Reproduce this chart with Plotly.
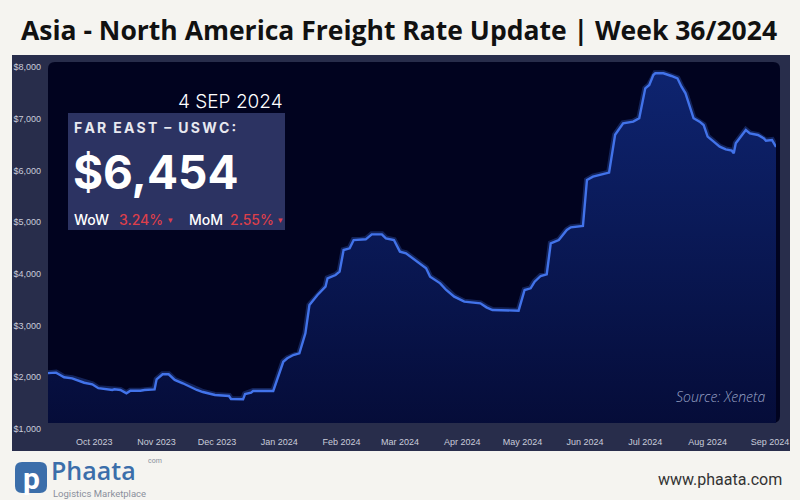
import plotly.graph_objects as go

# ---------------- data ----------------
dates = [
    "2023-09-08", "2023-09-12", "2023-09-14", "2023-09-16", "2023-09-20", "2023-09-26",
    "2023-09-30", "2023-10-03", "2023-10-10", "2023-10-11", "2023-10-14", "2023-10-17",
    "2023-10-19", "2023-10-24", "2023-10-26", "2023-10-31", "2023-11-01", "2023-11-04",
    "2023-11-07", "2023-11-10", "2023-11-14", "2023-11-21", "2023-11-24", "2023-11-30",
    "2023-12-07", "2023-12-08", "2023-12-14", "2023-12-15", "2023-12-18", "2023-12-19",
    "2023-12-29", "2024-01-01", "2024-01-03", "2024-01-05", "2024-01-08", "2024-01-11",
    "2024-01-12", "2024-01-14", "2024-01-16", "2024-01-20", "2024-01-24", "2024-01-25",
    "2024-01-29", "2024-01-31", "2024-02-02", "2024-02-05", "2024-02-07", "2024-02-10",
    "2024-02-13", "2024-02-16", "2024-02-21", "2024-02-23", "2024-02-27", "2024-03-01",
    "2024-03-04", "2024-03-14", "2024-03-16", "2024-03-21", "2024-03-24", "2024-03-28",
    "2024-04-02", "2024-04-10", "2024-04-13", "2024-04-16", "2024-04-29", "2024-05-02",
    "2024-05-05", "2024-05-07", "2024-05-10", "2024-05-13", "2024-05-15", "2024-05-19",
    "2024-05-23", "2024-05-25", "2024-05-31", "2024-06-02", "2024-06-05", "2024-06-13",
    "2024-06-15", "2024-06-16", "2024-06-20", "2024-06-25", "2024-06-28", "2024-07-01",
    "2024-07-03", "2024-07-05", "2024-07-06", "2024-07-10", "2024-07-14", "2024-07-17",
    "2024-07-19", "2024-07-21", "2024-07-25", "2024-07-28", "2024-07-30", "2024-08-01",
    "2024-08-04", "2024-08-07", "2024-08-10", "2024-08-13", "2024-08-14", "2024-08-15",
    "2024-08-20", "2024-08-22", "2024-08-26", "2024-08-29", "2024-08-30", "2024-09-02",
    "2024-09-04",
]
rates = [
    2080, 2090, 2045, 2000, 1980, 1895,
    1865, 1790, 1755, 1768, 1755, 1690,
    1740, 1740, 1755, 1767, 1960, 2058,
    2058, 1948, 1884, 1754, 1715, 1657,
    1638, 1580, 1574, 1677, 1702, 1735,
    1735, 2080, 2300, 2367, 2431, 2464,
    2592, 2850, 3398, 3591, 3752, 3914,
    3978, 4042, 4461, 4494, 4654, 4654,
    4668, 4764, 4764, 4687, 4654, 4429,
    4397, 4107, 3945, 3817, 3688, 3559,
    3462, 3430, 3353, 3301, 3288, 3688,
    3720, 3849, 3959, 3991, 4591, 4654,
    4848, 4900, 4925, 5815, 5879, 5957,
    6459, 6690, 6911, 6943, 7008, 7588,
    7652, 7846, 7878, 7878, 7826, 7781,
    7619, 7491, 7008, 6943, 6879, 6653,
    6556, 6459, 6408, 6382, 6331, 6524,
    6782, 6717, 6685, 6620, 6575, 6588,
    6454,
]
x_tick_vals = ["2023-10-01", "2023-11-01", "2023-12-01", "2024-01-01", "2024-02-01",
               "2024-03-01", "2024-04-01", "2024-05-01", "2024-06-01", "2024-07-01",
               "2024-08-01", "2024-09-01"]
x_tick_text = ["Oct 2023", "Nov 2023", "Dec 2023", "Jan 2024", "Feb 2024", "Mar 2024",
               "Apr 2024", "May 2024", "Jun 2024", "Jul 2024", "Aug 2024", "Sep 2024"]
y_tick_vals = [1000, 2000, 3000, 4000, 5000, 6000, 7000, 8000]
y_tick_text = ["$1,000", "$2,000", "$3,000", "$4,000", "$5,000", "$6,000", "$7,000", "$8,000"]

title_text = "Asia - North America Freight Rate Update | Week 36/2024"
date_label = "4 SEP 2024"
route_label = "F\u2009A\u2009R\u2002E\u2009A\u2009S\u2009T\u2002\u2013\u2002U\u2009S\u2009W\u2009C\u2009:"
latest_rate = "$6,454"
wow_change = "3.24%"
mom_change = "2.55%"
source_text = "Source: Xeneta"

# ---------------- layout helpers ----------------
W, H = 800, 500
L, R, T, B = 48, 776, 67, 429  # plot area in pixels


def px(x):
    return (x - L) / (R - L)


def py(y):
    return (B - y) / (B - T)


def rounded_rect(x0, y0, x1, y1, r):
    rx = r / (R - L)
    ry = r / (B - T)
    a, b, c, d = px(x0), py(y1), px(x1), py(y0)  # left, bottom, right, top
    return (f"M {a+rx},{b} L {c-rx},{b} Q {c},{b} {c},{b+ry} L {c},{d-ry} "
            f"Q {c},{d} {c-rx},{d} L {a+rx},{d} Q {a},{d} {a},{d-ry} "
            f"L {a},{b+ry} Q {a},{b} {a+rx},{b} Z")


PAGE = "#f5f4f0"
PANEL = "#282d4b"
INNER = "#01031f"
LINE = "#4273ea"
RED = "#dc3f4b"

fig = go.Figure()

# glow
fig.add_trace(go.Scatter(x=dates, y=rates, mode="lines",
                         line=dict(color="rgba(70,120,240,0.28)", width=6),
                         hoverinfo="skip", showlegend=False))
fig.add_trace(go.Scatter(
    x=dates, y=rates, mode="lines",
    line=dict(color=LINE, width=2.4),
    fill="tozeroy",
    fillgradient=dict(type="vertical", start=1000, stop=8000,
                      colorscale=[[0, "rgb(5,12,56)"], [1, "rgb(14,36,112)"]]),
    showlegend=False,
))

shapes = [
    dict(type="rect", xref="paper", yref="paper", x0=px(12), x1=px(790), y0=py(451), y1=py(55),
         fillcolor=PANEL, line_width=0, layer="below"),
    dict(type="path", xref="paper", yref="paper", path=rounded_rect(48, 62, 780, 423, 7),
         fillcolor=INNER, line_width=0, layer="below"),
    # strip below inner panel (covers fill below panel edge)
    dict(type="rect", xref="paper", yref="paper", x0=px(44), x1=px(782), y0=py(430), y1=py(423),
         fillcolor=PANEL, line_width=0, layer="above"),
    # info box
    dict(type="rect", xref="paper", yref="paper", x0=px(68), x1=px(285), y0=py(230), y1=py(113),
         fillcolor="#2c3362", line_width=0, layer="above"),
    # logo icon
    dict(type="path", xref="paper", yref="paper", path=rounded_rect(15, 462, 47, 493, 7),
         fillcolor="#3b6eaa", line_width=0, layer="above"),
]

INFO_FONT = "Inter, Open Sans, sans-serif"
ann = []


def text(x, y, s, size, color, xanchor="left", family=INFO_FONT, weight=400, style="normal", pad=1):
    ann.append(dict(x=px(x), y=py(y), xref="paper", yref="paper", text=s, showarrow=False,
                    xanchor=xanchor, yanchor="middle", borderpad=pad,
                    font=dict(size=size, color=color, family=family, weight=weight, style=style)))


text(399, 30, title_text, 26.5, "#111111", xanchor="center", family="Open Sans, sans-serif", weight=700)
text(285, 101, date_label, 19, "#ffffff", xanchor="right", weight=300)
text(72, 127, route_label, 14, "#e8e9f0", weight=700)
text(71, 172, latest_rate, 46, "#ffffff", weight=700)
text(72, 219, "WoW", 14, "#ffffff", weight=500)
text(117, 219, wow_change, 14, RED, weight=500)
text(166, 219, "\u25be", 9, RED)
text(187, 219, "MoM", 14, "#ffffff", weight=500)
text(228, 219, mom_change, 14, RED, weight=500)
text(276, 219, "\u25be", 9, RED)
text(767, 396, source_text, 14, "#9aa3c6", xanchor="right", family="Open Sans, sans-serif", weight=300, style="italic")
# footer
text(31, 478, "p", 30, "#ffffff", xanchor="center", family="Roboto, sans-serif", weight=700)
text(50, 470, "Phaata", 25, "#3b6eaa", family="Open Sans, sans-serif", weight=600, pad=0)
text(163, 461, "com", 7, "#8a8f9c", xanchor="right", family="Roboto, sans-serif", pad=0)
text(52, 493, "Logistics Marketplace", 9.5, "#8a8f9c", family="Roboto, sans-serif", pad=0)
text(784, 480, "www.phaata.com", 16, "#333333", xanchor="right", family="Roboto, sans-serif")

TICK_FONT = dict(family="Liberation Sans Narrow, Arial Narrow, Liberation Sans, sans-serif",
                 size=9, color="#c9ccda")

fig.update_layout(
    width=W, height=H,
    margin=dict(l=L, r=W - R, t=T, b=H - B, pad=0),
    paper_bgcolor=PAGE, plot_bgcolor="rgba(0,0,0,0)",
    shapes=shapes, annotations=ann,
    xaxis=dict(type="date", range=["2023-09-08", "2024-09-04"], tickvals=x_tick_vals,
               ticktext=x_tick_text, showgrid=False, zeroline=False, showline=False,
               ticks="", tickfont=TICK_FONT, ticklabelstandoff=6, fixedrange=True),
    yaxis=dict(range=[1000, 8000], tickvals=y_tick_vals, ticktext=y_tick_text,
               showgrid=False, zeroline=False, showline=False, ticks="",
               tickfont=TICK_FONT, ticklabelstandoff=6, fixedrange=True),
    showlegend=False,
)

fig.write_html("out.html", config={"displayModeBar": False},
               post_script="document.body.style.margin='0px';")
